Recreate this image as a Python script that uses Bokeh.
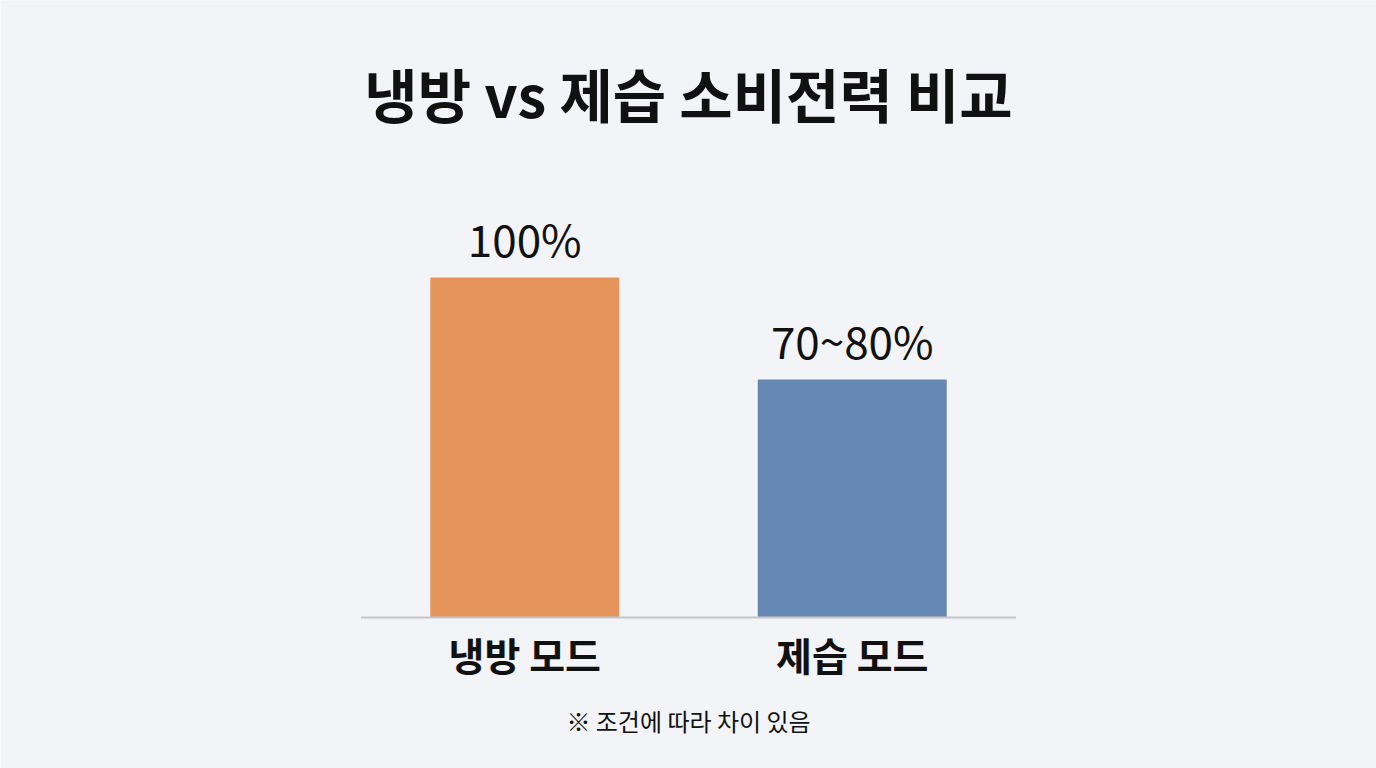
from bokeh.plotting import figure
from bokeh.models import FactorRange, Range1d, ColumnDataSource
from bokeh.core.properties import value
from bokeh.embed import file_html
from bokeh.resources import INLINE

title = "냉방 vs 제습 소비전력 비교"
categories = ["냉방 모드", "제습 모드"]
values = [100, 70]
value_labels = ["100%", "70~80%"]
colors = ["#E5955A", "#6689B4"]
footnote = "※ 조건에 따라 차이 있음"

FONT = value("Noto Sans CJK KR")
BG = "#F3F4F8"

src = ColumnDataSource(dict(cat=categories, val=values, lbl=value_labels, color=colors))

p = figure(
    width=1376, height=768,
    x_range=FactorRange(factors=categories, range_padding=1.1008, range_padding_units="percent"),
    y_range=Range1d(-44.41, 181.47),
    output_backend="svg", toolbar_location=None, title=None,
    x_axis_location=None, y_axis_location=None,
    min_border=0,
)
p.background_fill_color = BG
p.border_fill_color = BG
p.outline_line_color = None
p.xgrid.visible = False
p.ygrid.visible = False

p.vbar(x="cat", top="val", bottom=0, width=0.577, fill_color="color", line_color=None, source=src)

p.segment(x0=[0], y0=[0], x1=[len(categories)], y1=[0], line_color="#C6C6C8", line_width=2)

p.text(x="cat", y="val", text="lbl", y_offset=-40, text_align="center", text_baseline="middle",
       text_font_size="44px", text_font=FONT, text_color="#111111", source=src)

p.text(x="cat", y=0, text="cat", y_offset=36, text_align="center", text_baseline="middle",
       text_font_size="39px", text_font=FONT, text_font_style="bold", text_color="#111111", source=src)

p.text(x=[len(categories) / 2], y=[max(values)], text=[title], y_offset=-185, text_align="center",
       text_baseline="middle", text_font_size="58px", text_font=FONT, text_font_style="bold",
       text_color="#111111")

p.text(x=[len(categories) / 2], y=[0], text=[footnote], y_offset=103, text_align="center",
       text_baseline="middle", text_font_size="24px", text_font=FONT, text_color="#111111")

open("out.html", "w").write(file_html(p, INLINE))
